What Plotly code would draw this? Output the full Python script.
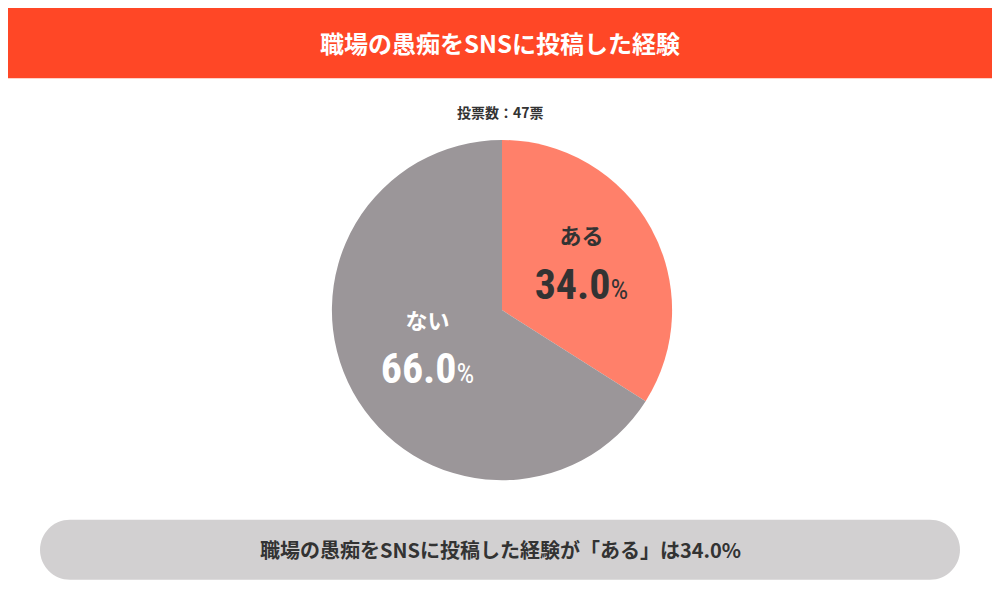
import plotly.graph_objects as go

title = "職場の愚痴をSNSに投稿した経験"
subtitle = "投票数：47票"
labels = ["ある", "ない"]
values = [34.0, 66.0]
colors = ["#FF806A", "#9B9699"]
text_colors = ["#333333", "#FFFFFF"]
summary = "職場の愚痴をSNSに投稿した経験が「ある」は34.0%"

FONT = "Noto Sans CJK JP"

fig = go.Figure()
fig.add_trace(go.Pie(
    labels=labels,
    values=values,
    marker=dict(colors=colors, line=dict(width=0)),
    sort=False,
    direction="clockwise",
    rotation=0,
    textinfo="text",
    texttemplate="<b><span style='font-size:22px'>%{label}</span></b><br><b>%{value:.1f}</b><span style='font-size:28px'>%</span>",
    textposition="inside",
    insidetextorientation="horizontal",
    textfont=dict(family="Roboto Condensed, Roboto, " + FONT, size=42, color=text_colors),
    domain=dict(x=[0.323, 0.665], y=[0.213, 0.78]),
    showlegend=False,
    hoverinfo="skip",
))

# rounded pill in paper coords
x0, x1, y0, y1 = 0.032, 0.952, 0.047, 0.147
rx, ry = 0.03, 0.05
k = 0.5523
pill = (f"M {x0+rx},{y0} L {x1-rx},{y0} "
        f"C {x1-rx+rx*k},{y0} {x1},{y0+ry-ry*k} {x1},{y0+ry} "
        f"C {x1},{y0+ry+ry*k} {x1-rx+rx*k},{y1} {x1-rx},{y1} "
        f"L {x0+rx},{y1} "
        f"C {x0+rx-rx*k},{y1} {x0},{y0+ry+ry*k} {x0},{y0+ry} "
        f"C {x0},{y0+ry-ry*k} {x0+rx-rx*k},{y0} {x0+rx},{y0} Z")

fig.update_layout(
    width=1000, height=600,
    margin=dict(l=0, r=0, t=0, b=0),
    paper_bgcolor="white",
    font=dict(family=FONT),
    shapes=[
        dict(type="rect", xref="paper", yref="paper", x0=0, x1=1, y0=0.883, y1=1,
             fillcolor="#FF4726", line=dict(width=0), layer="below"),
        dict(type="path", xref="paper", yref="paper", path=pill,
             fillcolor="#D2D0D1", line=dict(width=0), layer="below"),
    ],
    annotations=[
        dict(text=f"<b>{title}</b>", x=0.492, y=0.942, xref="paper", yref="paper",
             yanchor="middle", showarrow=False,
             font=dict(size=24, color="white", family=FONT)),
        dict(text=f"<b>{subtitle}</b>", x=0.492, y=0.827, xref="paper", yref="paper",
             yanchor="middle", showarrow=False,
             font=dict(size=14, color="#333333", family=FONT)),
        dict(text=f"<b>{summary}</b>", x=0.492, y=0.097, xref="paper", yref="paper",
             yanchor="middle", showarrow=False,
             font=dict(size=20, color="#333333", family=FONT)),
    ],
)

fig.write_html("out.html")
